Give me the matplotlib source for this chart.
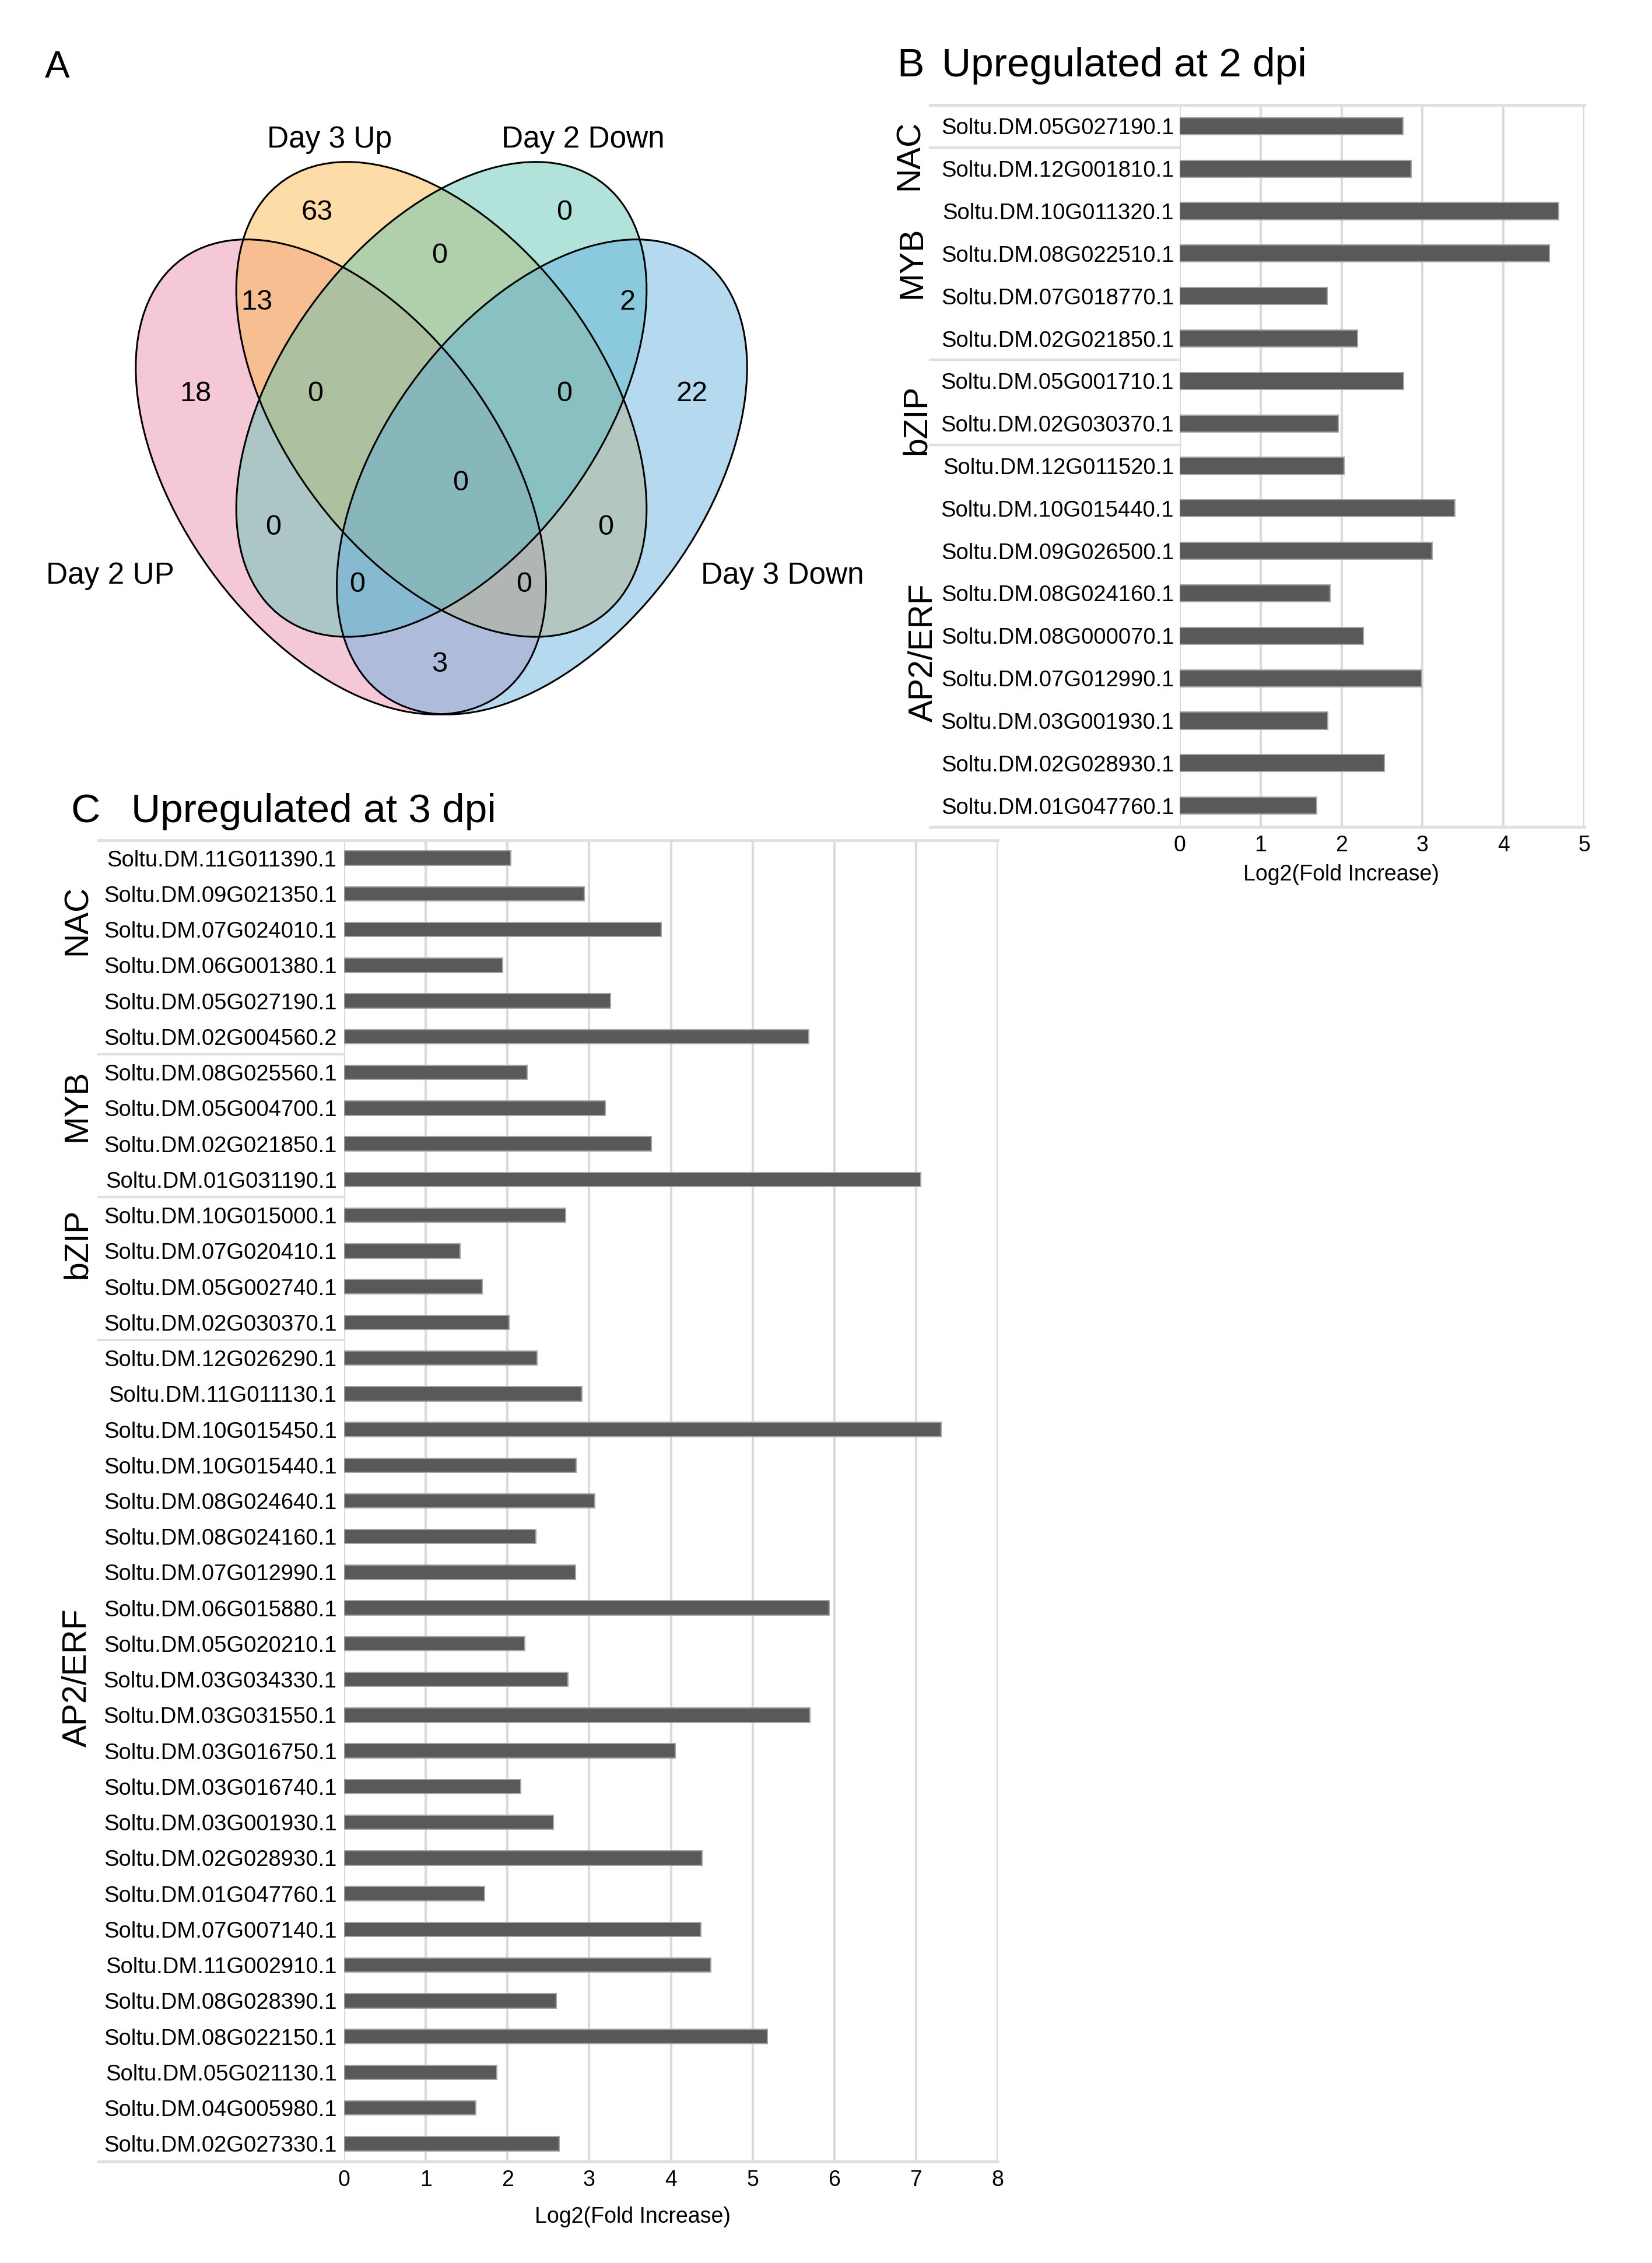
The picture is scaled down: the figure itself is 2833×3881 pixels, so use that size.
import numpy as np
import matplotlib
matplotlib.use('Agg')
import matplotlib.pyplot as plt
import matplotlib.transforms as mtransforms
from matplotlib.patches import Ellipse

W, H = 2833, 3881
REG = ['Liberation Sans', 'DejaVu Sans']

# ---------------- data ----------------
# A: four-set Venn
set_names = ['Day 2 UP', 'Day 3 Up', 'Day 2 Down', 'Day 3 Down']
venn_counts = [63, 0, 0, 13, 2, 18, 0, 0, 22, 0, 0, 0, 0, 0, 3]

# B: upregulated at 2 dpi
genes_b = ['Soltu.DM.05G027190.1', 'Soltu.DM.12G001810.1', 'Soltu.DM.10G011320.1',
           'Soltu.DM.08G022510.1', 'Soltu.DM.07G018770.1', 'Soltu.DM.02G021850.1',
           'Soltu.DM.05G001710.1', 'Soltu.DM.02G030370.1', 'Soltu.DM.12G011520.1',
           'Soltu.DM.10G015440.1', 'Soltu.DM.09G026500.1', 'Soltu.DM.08G024160.1',
           'Soltu.DM.08G000070.1', 'Soltu.DM.07G012990.1', 'Soltu.DM.03G001930.1',
           'Soltu.DM.02G028930.1', 'Soltu.DM.01G047760.1']
fold_b = [2.76, 2.86, 4.68, 4.57, 1.82, 2.20, 2.77, 1.96, 2.03,
          3.40, 3.12, 1.86, 2.27, 2.99, 1.83, 2.53, 1.69]
families_b = ['NAC', 'MYB', 'bZIP', 'AP2/ERF']

# C: upregulated at 3 dpi
genes_c = ['Soltu.DM.11G011390.1', 'Soltu.DM.09G021350.1', 'Soltu.DM.07G024010.1',
           'Soltu.DM.06G001380.1', 'Soltu.DM.05G027190.1', 'Soltu.DM.02G004560.2',
           'Soltu.DM.08G025560.1', 'Soltu.DM.05G004700.1', 'Soltu.DM.02G021850.1',
           'Soltu.DM.01G031190.1', 'Soltu.DM.10G015000.1', 'Soltu.DM.07G020410.1',
           'Soltu.DM.05G002740.1', 'Soltu.DM.02G030370.1', 'Soltu.DM.12G026290.1',
           'Soltu.DM.11G011130.1', 'Soltu.DM.10G015450.1', 'Soltu.DM.10G015440.1',
           'Soltu.DM.08G024640.1', 'Soltu.DM.08G024160.1', 'Soltu.DM.07G012990.1',
           'Soltu.DM.06G015880.1', 'Soltu.DM.05G020210.1', 'Soltu.DM.03G034330.1',
           'Soltu.DM.03G031550.1', 'Soltu.DM.03G016750.1', 'Soltu.DM.03G016740.1',
           'Soltu.DM.03G001930.1', 'Soltu.DM.02G028930.1', 'Soltu.DM.01G047760.1',
           'Soltu.DM.07G007140.1', 'Soltu.DM.11G002910.1', 'Soltu.DM.08G028390.1',
           'Soltu.DM.08G022150.1', 'Soltu.DM.05G021130.1', 'Soltu.DM.04G005980.1',
           'Soltu.DM.02G027330.1']
fold_c = [2.04, 2.94, 3.88, 1.94, 3.26, 5.69, 2.24, 3.20, 3.76, 7.06,
          2.71, 1.42, 1.69, 2.02, 2.36, 2.91, 7.31, 2.84, 3.07, 2.35,
          2.83, 5.94, 2.21, 2.74, 5.70, 4.05, 2.16, 2.56, 4.38, 1.72,
          4.37, 4.49, 2.60, 5.18, 1.87, 1.61, 2.63]
families_c = ['NAC', 'MYB', 'bZIP', 'AP2/ERF']

# ---------------- layout / style ----------------
BAR = '#58595B'
BAR_EDGE = '#A5A5A5'
GRID = '#DEDADA'

fig = plt.figure(figsize=(W / 100, H / 100), dpi=100)
fig.patch.set_facecolor('white')


def fxy(x, y):
    return x / W, 1 - y / H


# ---------------- A: Venn ----------------
axA = fig.add_axes([182.5 / W, 1 - 1310 / H, 1149 / W, (1310 - 113) / H])
axA.set_xlim(0, 1)
axA.set_ylim(0.1, 1.0)
axA.axis('off')

ell_centers = [(0.35, 0.47), (0.50, 0.57), (0.50, 0.57), (0.65, 0.47)]
ell_angles = [-45, -45, 45, 45]
venn_colors = ['#EB85A8', '#FBB33E', '#54C3B1', '#5BADDE']
for c, ang, col in zip(ell_centers, ell_angles, venn_colors):
    axA.add_patch(Ellipse(c, 0.74, 0.45, angle=ang, facecolor=col,
                          alpha=0.45, edgecolor='none'))
for c, ang in zip(ell_centers, ell_angles):
    axA.add_patch(Ellipse(c, 0.74, 0.45, angle=ang, fill=False,
                          edgecolor='black', linewidth=2.2))

count_pos = [(0.314, 0.811), (0.683, 0.811), (0.497, 0.755), (0.224, 0.695),
             (0.778, 0.695), (0.133, 0.577), (0.312, 0.577), (0.683, 0.577),
             (0.874, 0.577), (0.528, 0.462), (0.249, 0.405), (0.745, 0.405),
             (0.374, 0.331), (0.623, 0.331), (0.497, 0.228)]
for (u, v), n in zip(count_pos, venn_counts):
    axA.text(u, v, str(n), ha='center', va='center', fontsize=35, family=REG)

name_pos = [(189, 987), (565, 240), (1000, 240), (1342, 987)]
for (x, y), name in zip(name_pos, set_names):
    fig.text(*fxy(x, y), name, ha='center', va='center', fontsize=37, family=REG)

fig.text(*fxy(77, 133), 'A', ha='left', va='baseline', fontsize=46, family=REG)


# ---------------- bar panels ----------------
def bar_panel(rect, genes, vals, xmax, frame_left, seps, fam_names, fam_pos,
              fam_x, xlabel_pos, ypad):
    ax = fig.add_axes(rect)
    y = np.arange(len(genes))
    ax.barh(y, vals, height=0.4, color=BAR, edgecolor=BAR_EDGE,
            linewidth=1.5, zorder=3)
    ax.set_xlim(0, xmax)
    ax.set_ylim(len(genes) - 0.5, -0.5)
    ax.set_xticks(range(xmax + 1))
    ax.set_yticks(y)
    ax.set_yticklabels(genes, fontsize=27.5, family=REG)
    for lab in ax.get_xticklabels():
        lab.set_fontsize(27)
        lab.set_family(REG)
    ax.tick_params(axis='both', length=0)
    ax.tick_params(axis='y', pad=ypad)
    ax.tick_params(axis='x', pad=10)
    ax.grid(axis='x', color=GRID, linewidth=3, zorder=0)
    ax.set_axisbelow(True)
    for s in ax.spines.values():
        s.set_visible(False)
    # frame lines across the label area
    for yy in (-0.5, len(genes) - 0.5):
        ax.axhline(yy, xmin=frame_left, xmax=1, color='#E2DEDE',
                   linewidth=3.5, clip_on=False, zorder=1)
    for yy in seps:
        ax.axhline(yy, xmin=frame_left, xmax=0, color='#E2DEDE',
                   linewidth=3, clip_on=False, zorder=1)
    trans = mtransforms.blended_transform_factory(ax.transAxes, ax.transData)
    for name, yp, xp in zip(fam_names, fam_pos, fam_x):
        ax.text(xp, yp, name, rotation=90, transform=trans, ha='center',
                va='center', fontsize=41, family=REG)
    ax.set_xlabel('Log2(Fold Increase)', fontsize=27, family=REG)
    ax.xaxis.set_label_coords(*xlabel_pos)
    ax.xaxis.label.set_va('center')
    return ax


bar_panel([2023 / W, 1 - 1418 / H, 694 / W, 1238 / H], genes_b, fold_b, 5,
          -0.617, [0.5, 5.5, 7.5], families_b, [0.68, 3.21, 6.92, 12.4],
          [-0.667, -0.661, -0.650, -0.634], (0.399, -0.066), 7)

bar_panel([590 / W, 1 - 3707 / H, 1121 / W, 2266 / H], genes_c, fold_c, 8,
          -0.376, [5.5, 9.5, 13.5], families_c, [1.74, 6.93, 10.79, 22.95],
          [-0.408, -0.408, -0.408, -0.408], (0.4416, -0.042), 9)

# panel titles
fig.text(*fxy(1538, 131), 'B', ha='left', va='baseline', fontsize=50, family=REG)
fig.text(*fxy(1615, 131), 'Upregulated at 2 dpi', ha='left', va='baseline',
         fontsize=50, family=REG)
fig.text(*fxy(122, 1410), 'C', ha='left', va='baseline', fontsize=50, family=REG)
fig.text(*fxy(225, 1410), 'Upregulated at 3 dpi', ha='left', va='baseline',
         fontsize=50, family=REG)

fig.savefig('out.png', dpi=100, facecolor='white')
